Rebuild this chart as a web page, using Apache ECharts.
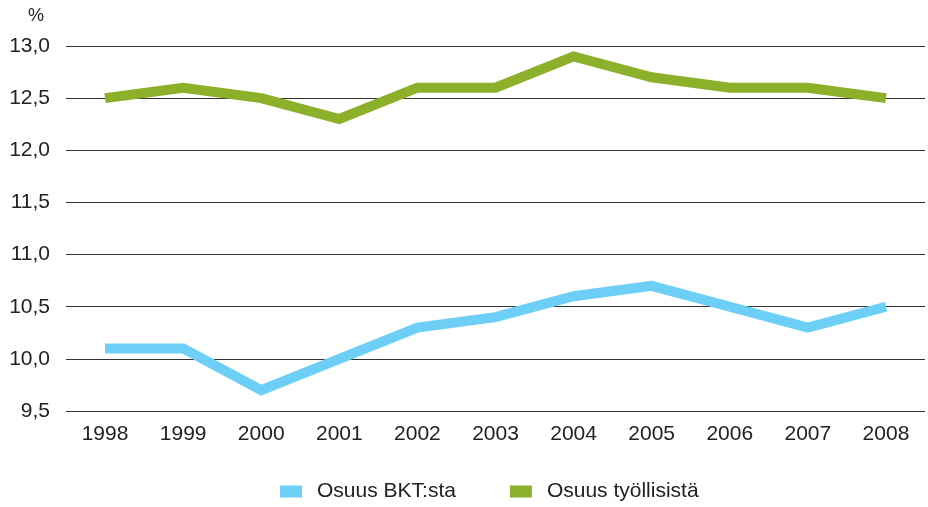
<!DOCTYPE html>
<html>
<head>
<meta charset="utf-8">
<script src="https://cdn.jsdelivr.net/npm/echarts@6/dist/echarts.min.js"></script>
<style>
  html, body { margin: 0; padding: 0; background: #fff; }
  #chart { width: 928px; height: 507px; }
</style>
</head>
<body>
<div id="chart"></div>
<script>
const years = ['1998', '1999', '2000', '2001', '2002', '2003', '2004', '2005', '2006', '2007', '2008'];
const osuusBkt = [10.1, 10.1, 9.7, 10.0, 10.3, 10.4, 10.6, 10.7, 10.5, 10.3, 10.5];
const osuusTyollisista = [12.5, 12.6, 12.5, 12.3, 12.6, 12.6, 12.9, 12.7, 12.6, 12.6, 12.5];

const font = 'Liberation Sans, Arial, sans-serif';
const myChart = echarts.init(document.getElementById('chart'));

const option = {
  animation: false,
  title: {
    text: '%',
    left: 23,
    top: 2,
    textStyle: { fontFamily: font, fontSize: 18, fontWeight: 'normal', color: '#222' }
  },
  grid: {
    left: 66,
    right: 3,
    top: 46,
    bottom: 96
  },
  legend: {
    top: 476,
    left: 275,
    icon: 'rect',
    itemWidth: 22,
    itemHeight: 12,
    itemGap: 54,
    textStyle: { fontFamily: font, fontSize: 21, color: '#222', padding: [0, 0, 0, 10] },
    data: ['Osuus BKT:sta', 'Osuus työllisistä']
  },
  xAxis: {
    type: 'category',
    data: years,
    boundaryGap: true,
    axisLine: { show: false },
    axisTick: { show: false },
    axisLabel: { fontFamily: font, fontSize: 21, color: '#222', margin: 13 }
  },
  yAxis: {
    type: 'value',
    min: 9.5,
    max: 13,
    interval: 0.5,
    axisLabel: {
      fontFamily: font,
      fontSize: 21,
      color: '#222',
      margin: 16,
      formatter: v => v.toFixed(1).replace('.', ',')
    },
    splitLine: { lineStyle: { color: '#333', width: 1.2 } }
  },
  series: [
    {
      name: 'Osuus BKT:sta',
      type: 'line',
      data: osuusBkt,
      symbol: 'none',
      color: '#6dcff6',
      lineStyle: { width: 10, cap: 'butt', join: 'miter' }
    },
    {
      name: 'Osuus työllisistä',
      type: 'line',
      data: osuusTyollisista,
      symbol: 'none',
      color: '#8db02b',
      lineStyle: { width: 10, cap: 'butt', join: 'miter' }
    }
  ]
};

myChart.setOption(option);
</script>
</body>
</html>
